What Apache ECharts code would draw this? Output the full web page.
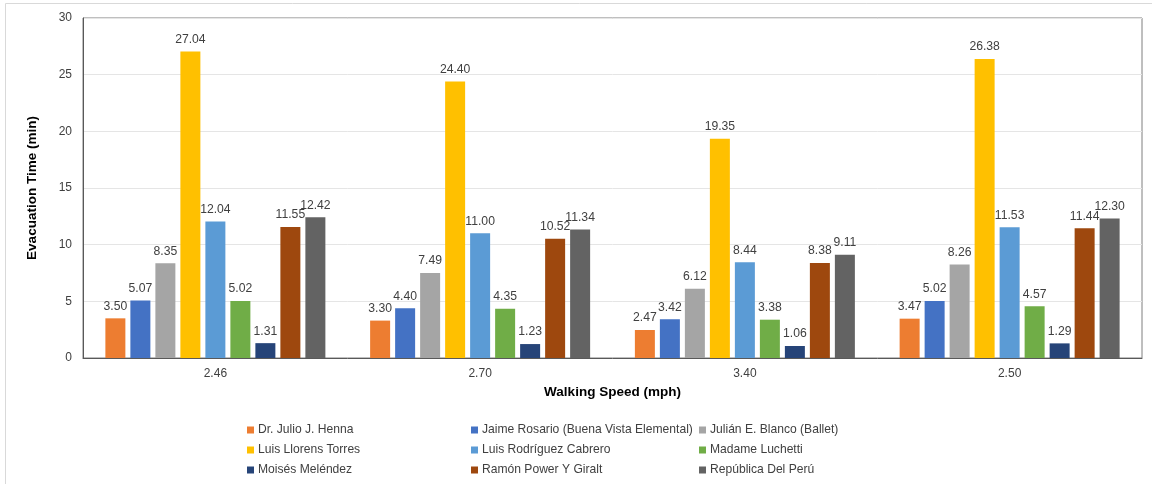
<!DOCTYPE html>
<html>
<head>
<meta charset="utf-8">
<script src="https://cdn.jsdelivr.net/npm/echarts@6/dist/echarts.min.js"></script>
<style>
  html, body { margin: 0; padding: 0; background: #fff; }
  #chart { width: 1152px; height: 484px; }
</style>
</head>
<body>
<div id="chart"></div>
<script>
// Walking speeds (mph) used as the category axis
const speeds = ['2.46', '2.70', '3.40', '2.50'];

// Evacuation time (min) per school
const schools = [
  'Dr. Julio J. Henna',
  'Jaime Rosario (Buena Vista Elemental)',
  'Julián E. Blanco (Ballet)',
  'Luis Llorens Torres',
  'Luis Rodríguez Cabrero',
  'Madame Luchetti',
  'Moisés Meléndez',
  'Ramón Power Y Giralt',
  'República Del Perú'
];
const henna      = [3.50, 3.30, 2.47, 3.47];
const rosario    = [5.07, 4.40, 3.42, 5.02];
const blanco     = [8.35, 7.49, 6.12, 8.26];
const llorens    = [27.04, 24.40, 19.35, 26.38];
const rodriguez  = [12.04, 11.00, 8.44, 11.53];
const luchetti   = [5.02, 4.35, 3.38, 4.57];
const melendez   = [1.31, 1.23, 1.06, 1.29];
const power      = [11.55, 10.52, 8.38, 11.44];
const peru       = [12.42, 11.34, 9.11, 12.30];

const seriesValues = [henna, rosario, blanco, llorens, rodriguez, luchetti, melendez, power, peru];
const palette = ['#ED7D31', '#4472C4', '#A5A5A5', '#FFC000', '#5B9BD5', '#70AD47', '#264478', '#9E480E', '#636363'];

const FONT = '"Liberation Sans", Arial, sans-serif';

const series = schools.map((name, i) => ({
  name: name,
  type: 'bar',
  data: seriesValues[i],
  barWidth: 20,
  barGap: '25%',
  barCategoryGap: '15%',
  itemStyle: { color: palette[i] },
  label: {
    show: true,
    position: 'top',
    distance: 6,
    formatter: p => p.value.toFixed(2),
    fontFamily: FONT,
    fontSize: 12.2,
    color: '#404040'
  }
}));

// Legend laid out as three columns, three rows each
function legendColumn(names, left) {
  return {
    orient: 'vertical',
    left: left,
    top: 419,
    data: names,
    icon: 'rect',
    itemWidth: 7,
    itemHeight: 7,
    itemGap: 8,
    textStyle: { fontFamily: FONT, fontSize: 12.1, color: '#404040', padding: [0, 0, 0, -1] },
    selectedMode: false
  };
}

const chart = echarts.init(document.getElementById('chart'), null, { renderer: 'canvas' });
chart.setOption({
  animation: false,
  color: palette,
  textStyle: { fontFamily: FONT },
  graphic: [{
    type: 'rect',
    shape: { x: 5.5, y: 3.5, width: 1160, height: 500 },
    style: { fill: 'none', stroke: '#D9D9D9', lineWidth: 1 },
    silent: true
  }],
  grid: {
    left: 83, right: 10, top: 18, bottom: 126,
    show: true,
    borderColor: '#7F7F7F',
    borderWidth: 1
  },
  legend: [
    legendColumn([schools[0], schools[3], schools[6]], 242),
    legendColumn([schools[1], schools[4], schools[7]], 466),
    legendColumn([schools[2], schools[5], schools[8]], 694)
  ],
  xAxis: {
    type: 'category',
    data: speeds,
    name: 'Walking Speed (mph)',
    nameLocation: 'middle',
    nameGap: 27,
    nameTextStyle: { fontFamily: FONT, fontSize: 13.5, fontWeight: 'bold', color: '#000' },
    axisLine: { lineStyle: { color: '#595959' } },
    axisTick: { show: false },
    axisLabel: { fontFamily: FONT, fontSize: 12, color: '#404040', margin: 10 }
  },
  yAxis: {
    type: 'value',
    min: 0,
    max: 30,
    interval: 5,
    name: 'Evacuation Time (min)',
    nameLocation: 'middle',
    nameGap: 44,
    nameTextStyle: { fontFamily: FONT, fontSize: 13.5, fontWeight: 'bold', color: '#000' },
    axisLine: { show: true, lineStyle: { color: '#595959' } },
    axisTick: { show: false },
    axisLabel: { fontFamily: FONT, fontSize: 12, color: '#404040', margin: 11 },
    splitLine: { lineStyle: { color: '#E5E5E5' } }
  },
  series: series
});
</script>
</body>
</html>
